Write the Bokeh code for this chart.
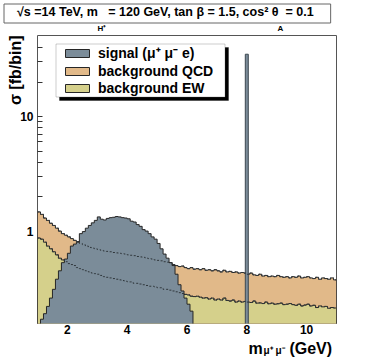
import numpy as np
from bokeh.plotting import figure
from bokeh.models import Range1d, FixedTicker, Label, BoxAnnotation, Legend, LegendItem
from bokeh.embed import file_html
from bokeh.resources import INLINE

# ---------------- data ----------------
mass_min, mass_max, bin_width = 1.0, 11.0, 0.1
bin_edges = np.round(np.arange(mass_min, mass_max + bin_width / 2, bin_width), 3)  # 100 bins

# background EW  [fb/bin]
background_ew = [
    0.87, 0.85, 0.80, 0.74, 0.70, 0.66, 0.62, 0.58, 0.56, 0.54,
    0.52, 0.51, 0.50, 0.48, 0.47, 0.46, 0.45, 0.44, 0.43, 0.425,
    0.42, 0.41, 0.40, 0.395, 0.39, 0.385, 0.38, 0.375, 0.37, 0.365,
    0.36, 0.36, 0.35, 0.35, 0.345, 0.34, 0.335, 0.33, 0.33, 0.325,
    0.32, 0.32, 0.31, 0.31, 0.305, 0.30, 0.295, 0.29, 0.285, 0.28,
    0.277, 0.27, 0.268, 0.27, 0.265, 0.26, 0.262, 0.255, 0.26, 0.25,
    0.255, 0.25, 0.26, 0.248, 0.245, 0.25, 0.24, 0.245, 0.24, 0.243,
    0.24, 0.238, 0.245, 0.235, 0.236, 0.233, 0.24, 0.232, 0.235, 0.23,
    0.232, 0.235, 0.228, 0.23, 0.233, 0.228, 0.225, 0.23, 0.222, 0.226,
    0.23, 0.222, 0.225, 0.215, 0.222, 0.218, 0.22, 0.212, 0.215, 0.213,
]

# background QCD (stacked on top of EW)  [fb/bin]
background_qcd = [
    0.60, 0.55, 0.50, 0.50, 0.47, 0.46, 0.44, 0.42, 0.39, 0.38,
    0.37, 0.35, 0.33, 0.33, 0.31, 0.30, 0.29, 0.28, 0.28, 0.275,
    0.27, 0.27, 0.27, 0.27, 0.27, 0.265, 0.265, 0.265, 0.265, 0.265,
    0.26, 0.255, 0.26, 0.25, 0.25, 0.25, 0.245, 0.245, 0.24, 0.235,
    0.235, 0.23, 0.23, 0.225, 0.225, 0.21, 0.205, 0.20, 0.21, 0.20,
    0.193, 0.21, 0.197, 0.20, 0.195, 0.21, 0.193, 0.205, 0.19, 0.21,
    0.195, 0.19, 0.195, 0.192, 0.20, 0.185, 0.20, 0.185, 0.195, 0.187,
    0.18, 0.192, 0.17, 0.175, 0.184, 0.172, 0.17, 0.168, 0.17, 0.17,
    0.178, 0.165, 0.167, 0.17, 0.157, 0.172, 0.17, 0.175, 0.168, 0.169,
    0.17, 0.168, 0.16, 0.18, 0.158, 0.172, 0.165, 0.168, 0.175, 0.162,
]

# signal (mu+ mu- e)  [fb/bin]
signal = [
    0.0, 0.17, 0.19, 0.22, 0.26, 0.31, 0.38, 0.45, 0.53, 0.57,
    0.64, 0.74, 0.77, 0.80, 0.95, 0.99, 1.06, 1.12, 1.18, 1.24,
    1.33, 1.27, 1.25, 1.29, 1.31, 1.32, 1.34, 1.33, 1.31, 1.30,
    1.28, 1.22, 1.20, 1.14, 1.10, 1.03, 1.00, 0.95, 0.89, 0.85,
    0.78, 0.70, 0.63, 0.58, 0.53, 0.50, 0.42, 0.34, 0.30, 0.26,
    0.23, 0.20, 0.0, 0.0, 0.0, 0.0, 0.0, 0.0, 0.0, 0.0,
    0.0, 0.0, 0.0, 0.0, 0.0, 0.0, 0.0, 0.0, 0.0, 0.0,
    0.0, 0.0, 0.0, 0.0, 0.0, 0.0, 0.0, 0.0, 0.0, 0.0,
    0.0, 0.0, 0.0, 0.0, 0.0, 0.0, 0.0, 0.0, 0.0, 0.0,
    0.0, 0.0, 0.0, 0.0, 0.0, 0.0, 0.0, 0.0, 0.0, 0.0,
]

# narrow signal peak
peak_mass = [8.0]
peak_sigma = [35.0]

y_min, y_max = 0.156, 51.0
y_major_ticks = [1, 10]
y_minor_ticks = [2, 3, 4, 5, 6, 7, 8, 9, 10, 20, 30, 40]
x_major_ticks = [2, 4, 6, 8, 10]

# ---------------- styling ----------------
C_SIG = "#7b8c99"
C_QCD = "#e1b989"
C_EW = "#d5d08b"
C_LINE = "#262626"
FONT = "Liberation Sans"
FLOOR = 1e-3  # below the visible range (empty bins)
NB = "\u00a0"


def step_polygon(edges, vals):
    v = np.where(np.asarray(vals, float) > 0, vals, FLOOR)
    xs = np.repeat(edges, 2)[1:-1]
    ys = np.repeat(v, 2)
    return (np.concatenate([[edges[0]], xs, [edges[-1]]]),
            np.concatenate([[FLOOR], ys, [FLOOR]]))


def step_line(edges, vals):
    v = np.where(np.asarray(vals, float) > 0, vals, FLOOR)
    return np.repeat(edges, 2)[1:-1], np.repeat(v, 2)


ew = np.array(background_ew)
stack_qcd = ew + np.array(background_qcd)

p = figure(width=374, height=359, output_backend="svg", toolbar_location=None,
           y_axis_type="log",
           x_range=Range1d(mass_min, mass_max), y_range=Range1d(y_min, y_max),
           min_border_left=37, min_border_right=38, min_border_top=35, min_border_bottom=36)
p.background_fill_color = "white"
p.border_fill_color = "white"
p.grid.visible = False
p.outline_line_color = "#555555"
p.outline_line_width = 1

# stacked backgrounds
xq, yq = step_polygon(bin_edges, stack_qcd)
r_qcd = p.patch(xq, yq, fill_color=C_QCD, line_color=C_LINE, line_width=1)
xe, ye = step_polygon(bin_edges, ew)
r_ew = p.patch(xe, ye, fill_color=C_EW, line_color=C_LINE, line_width=1)

# signal drawn over the backgrounds
xs_, ys_ = step_polygon(bin_edges, signal)
r_sig = p.patch(xs_, ys_, fill_color=C_SIG, line_color=C_LINE, line_width=1)
pk = np.array(peak_mass)
p.quad(left=pk - bin_width / 2, right=pk + bin_width / 2, bottom=FLOOR, top=peak_sigma,
       fill_color=C_SIG, line_color="#3c4850", line_width=1)

# background outlines shown dashed through the signal
for vals in (stack_qcd, ew):
    lx, ly = step_line(bin_edges, vals)
    p.line(lx, ly, line_color="#30373c", line_width=1, line_dash="2 2")

# axes
p.xaxis.ticker = FixedTicker(ticks=x_major_ticks, minor_ticks=[])
p.yaxis.ticker = FixedTicker(ticks=y_major_ticks, minor_ticks=y_minor_ticks)
p.yaxis.major_label_overrides = {1: "1", 10: "10"}
for ax in (p.xaxis[0], p.yaxis[0]):
    ax.axis_line_color = None
    ax.major_tick_in = 0
    ax.major_tick_out = 0
    ax.minor_tick_in = 0
    ax.minor_tick_out = 0
    ax.major_tick_line_color = "#333333"
    ax.minor_tick_line_color = "#333333"
    ax.major_label_text_font = FONT
    ax.major_label_text_font_style = "bold"
    ax.major_label_text_font_size = "12px"
    ax.major_label_text_color = "black"
p.yaxis.minor_tick_in = 5
p.xaxis.major_label_standoff = 1
p.yaxis.major_label_standoff = 4


def lab(place, text, x, y, size, align="left", baseline="alphabetic", angle=0.0, **kw):
    p.add_layout(Label(x=x, y=y, x_units="canvas", y_units="canvas", text=text,
                       text_font=FONT, text_font_style="bold", text_font_size=size,
                       text_align=align, text_baseline=baseline, angle=angle,
                       text_color="black", **kw), place)


# header box (top panel); subscripts live in the right panel
lab("above", "\u221as =14 TeV, m" + NB + NB + " = 120 GeV, tan \u03b2 = 1.5, cos\u00b2 \u03b8" + NB + " = 0.1",
    3.5, 3.5, "12.5px", baseline="top", padding=(13, 17, 1, 4),
    border_line_color="#666666", border_line_width=1, background_fill_color="white")
lab("right", "H\u207a", 97, 28, "8px")
lab("right", "A", 277, 28, "8px")

# axis titles
lab("left", "\u03c3 [fb/bin]", 15, 35, "16px", align="right", angle=np.pi / 2)
lab("below", "m" + NB * 6 + "(GeV)", 248, 348, "16px")
lab("above", "\u03bc\u207a \u03bc\u207b", 263, 350, "10px")

# legend box with shadow
p.add_layout(BoxAnnotation(left=59, right=228, top=47, bottom=100,
                           left_units="canvas", right_units="canvas",
                           top_units="canvas", bottom_units="canvas",
                           fill_color="black", fill_alpha=1.0, line_color="black"))
p.add_layout(BoxAnnotation(left=55.5, right=224.5, top=43.5, bottom=96.5,
                           left_units="canvas", right_units="canvas",
                           top_units="canvas", bottom_units="canvas",
                           fill_color="white", fill_alpha=1.0, line_color="#555555", line_width=1))
legend = Legend(items=[LegendItem(label="signal (\u03bc\u207a \u03bc\u207b e)", renderers=[r_sig]),
                       LegendItem(label="background QCD", renderers=[r_qcd]),
                       LegendItem(label="background EW", renderers=[r_ew])],
                location=(25, 227), padding=0, spacing=0, margin=0,
                glyph_width=30, glyph_height=10, label_height=17, label_standoff=6,
                label_text_font=FONT, label_text_font_style="bold",
                label_text_font_size="14px", label_text_color="black",
                background_fill_alpha=0.0, border_line_color=None)
p.add_layout(legend)

open("out.html", "w").write(file_html(p, INLINE))
